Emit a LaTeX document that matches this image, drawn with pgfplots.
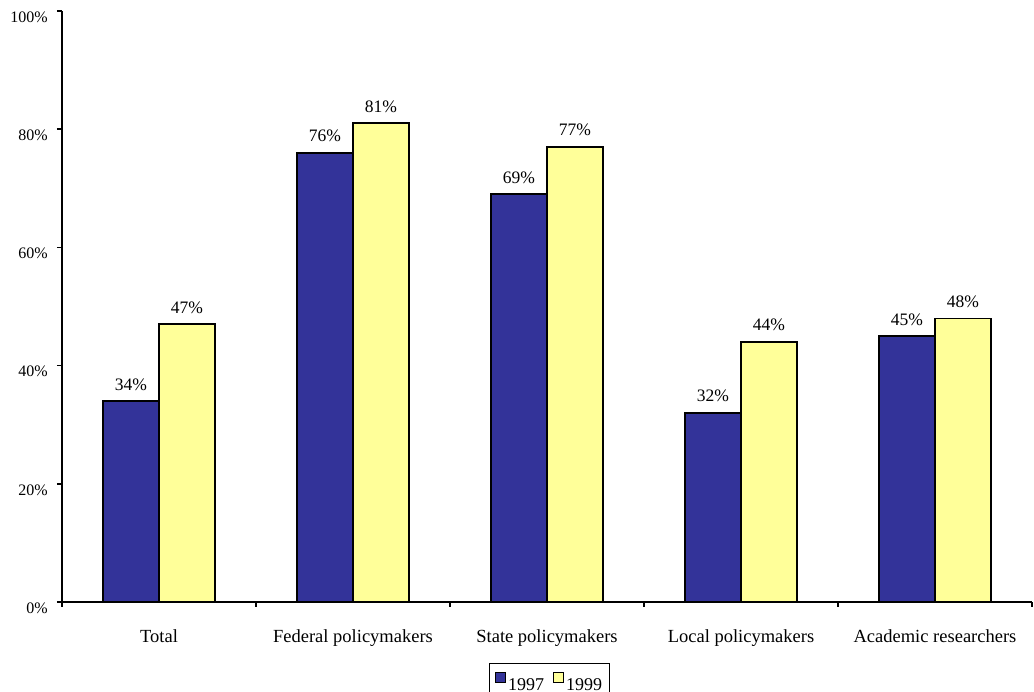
\documentclass[border=0pt]{standalone}
\usepackage{pgfplots}
\pgfplotsset{compat=1.18}
\usepackage{fontspec}
\setmainfont{Liberation Serif}
\definecolor{navy97}{RGB}{51,51,153}
\definecolor{pale99}{RGB}{255,255,153}

\begin{document}
\begin{tikzpicture}
\useasboundingbox (-62pt,-90pt) rectangle (972pt,602pt);
\begin{axis}[
  at={(0pt,0pt)}, anchor=south west,
  scale only axis,
  width=970pt, height=591pt,
  xmin=-0.5, xmax=4.5,
  ymin=0, ymax=100,
  ybar=0pt, bar width=56pt,
  axis lines*=left,
  axis line style={line width=1.8pt},
  tick align=outside,
  major tick length=5pt,
  minor tick length=5pt,
  /pgf/number format/assume math mode=true,
  ytick={0,20,40,60,80,100},
  yticklabels={0\%,20\%,40\%,60\%,80\%,100\%},
  yticklabel style={font=\fontsize{16}{18}\selectfont, inner sep=0pt, xshift=-9pt, yshift=-6pt},
  major y tick style={line width=1.5pt, black},
  xtick={0,1,2,3,4},
  xticklabels={Total, Federal policymakers, State policymakers, Local policymakers, Academic researchers},
  xticklabel style={font=\fontsize{18.5}{20}\selectfont, inner sep=0pt, anchor=north, yshift=-22pt},
  major x tick style={draw=none},
  minor xtick={-0.5,0.5,1.5,2.5,3.5,4.5},
  minor x tick style={line width=1.5pt, black},
  nodes near coords={\pgfmathprintnumber{\pgfplotspointmeta}\%},
  every node near coord/.append style={font=\fontsize{17.5}{19}\selectfont, anchor=south, inner sep=0pt, yshift=10pt, black},
  legend style={at={(0.5026,-0.1032)}, anchor=north, draw=black, line width=1.5pt,
    font=\fontsize{18}{20}\selectfont, inner xsep=5.5pt, inner ysep=8pt,
    nodes={inner xsep=2pt, inner ysep=0pt},
    /tikz/every even column/.append style={column sep=7pt}},
  legend columns=2,
  legend image code/.code={\draw[#1,draw=black,line width=1.2pt] (0pt,2pt) rectangle (10pt,12.5pt);},
]
\addplot[fill=navy97, draw=black, line width=1.6pt]
  coordinates {(0,34) (1,76) (2,69) (3,32) (4,45)};
\addplot[fill=pale99, draw=black, line width=1.6pt]
  coordinates {(0,47) (1,81) (2,77) (3,44) (4,48)};
\legend{1997,1999}
\end{axis}
\end{tikzpicture}
\end{document}
